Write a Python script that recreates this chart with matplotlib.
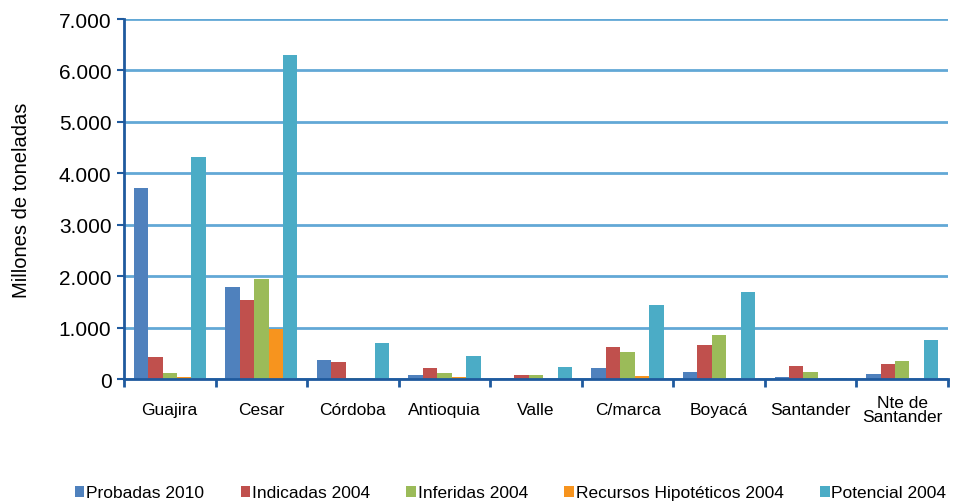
import numpy as np
import matplotlib
matplotlib.use("Agg")
import matplotlib.pyplot as plt
from matplotlib.ticker import FuncFormatter

departamentos = ["Guajira", "Cesar", "Córdoba", "Antioquia", "Valle",
                 "C/marca", "Boyacá", "Santander", "Nte de\nSantander"]
probadas_2010 = [3720, 1790, 375, 85, 25, 220, 140, 45, 100]
indicadas_2004 = [435, 1545, 340, 220, 85, 630, 665, 260, 300]
inferidas_2004 = [125, 1950, 10, 125, 85, 530, 860, 145, 355]
hipoteticos_2004 = [30, 980, 0, 30, 5, 65, 5, 0, 5]
potencial_2004 = [4320, 6300, 705, 455, 240, 1445, 1700, 10, 765]

series = [
    ("Probadas 2010", probadas_2010, "#4F81BD"),
    ("Indicadas 2004", indicadas_2004, "#C0504D"),
    ("Inferidas 2004", inferidas_2004, "#9BBB59"),
    ("Recursos Hipotéticos 2004", hipoteticos_2004, "#F7941E"),
    ("Potencial 2004", potencial_2004, "#4BACC6"),
]

plt.rcParams["font.family"] = ["Liberation Sans", "DejaVu Sans"]

fig = plt.figure(figsize=(9.58, 5.02), dpi=100)
ax = fig.add_axes([0.1294, 0.243, 0.8602, 0.717])

x = np.arange(len(departamentos))
w = 0.158
for i, (nombre, valores, color) in enumerate(series):
    ax.bar(x + (i - 2) * w, valores, width=w, color=color, label=nombre, zorder=3)

ax.set_xlim(-0.5, len(departamentos) - 0.5)
ax.set_ylim(0, 7000)
ax.set_yticks(np.arange(0, 7001, 1000))
ax.yaxis.set_major_formatter(FuncFormatter(lambda v, p: f"{int(v):,}".replace(",", ".")))
ax.grid(axis="y", color="#62A8D6", lw=2, zorder=0)

ax.set_xticks(x)
ax.set_xticklabels(departamentos, fontsize=12.5, linespacing=0.95, va="center")
ax.set_xticks(np.arange(-0.5, len(departamentos)), minor=True)
ax.tick_params(axis="x", which="major", length=0, pad=22)
ax.tick_params(axis="x", which="minor", length=6, width=2, color="#1F5A9E", direction="out")
ax.tick_params(axis="y", length=5, width=1.5, color="#1F5A9E", labelsize=15, pad=4)

for side in ["top", "right"]:
    ax.spines[side].set_visible(False)
for side in ["left", "bottom"]:
    ax.spines[side].set_color("#1F5A9E")
    ax.spines[side].set_linewidth(2)
    ax.spines[side].set_zorder(4)

ax.set_ylabel("Millones de toneladas", fontsize=14.5, labelpad=20)

fig.legend(loc="lower center", bbox_to_anchor=(0.533, -0.03), ncol=5, frameon=False,
           handlelength=0.55, handleheight=0.55, handletextpad=0.1,
           columnspacing=2.1, prop={"size": 12.5})

fig.savefig("out.png", dpi=100)
